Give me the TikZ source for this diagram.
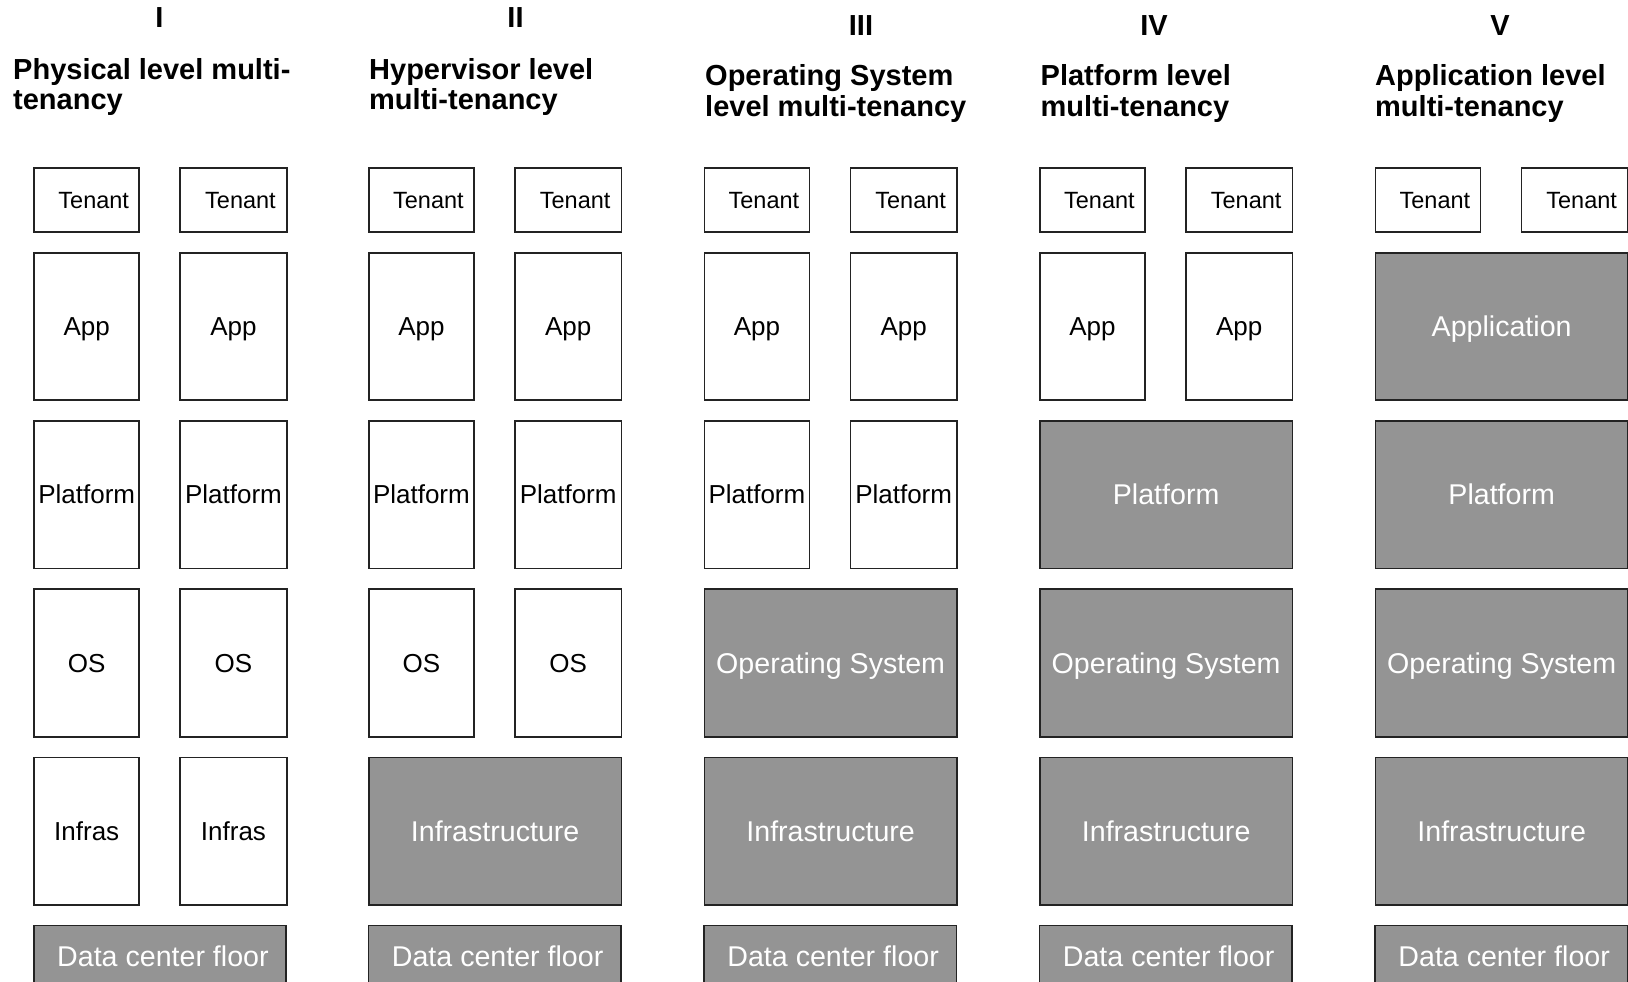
\documentclass[tikz,border=0pt]{standalone}
\usepackage{fontspec}
\setmainfont{Liberation Sans}
\definecolor{boxgray}{RGB}{148,148,148}
\definecolor{edge}{RGB}{35,35,35}
\begin{document}
\begin{tikzpicture}[x=1pt,y=-1pt,
  base/.style={draw=edge, line width=1.8pt, inner sep=0pt, anchor=north west},
  wbox/.style={base, fill=white, minimum width=105pt, minimum height=147.5pt,
    font=\fontsize{26}{30}\selectfont, text height=18.6pt, text depth=0pt},
  wboxb/.style={wbox, minimum width=106.5pt},
  tbox/.style={base, fill=white, minimum width=105pt, minimum height=64pt,
    font=\fontsize{23.5}{28}\selectfont, text height=16.8pt, text depth=0pt},
  tboxb/.style={tbox, minimum width=106.5pt},
  gbox/.style={base, fill=boxgray, text=white, minimum width=252.5pt, minimum height=147.5pt,
    font=\fontsize{28.6}{33}\selectfont, text height=20.5pt, text depth=0pt},
  floorbox/.style={gbox, minimum height=61pt},
  title/.style={anchor=north west, inner sep=0pt, align=left,
    font=\fontsize{29}{30.5}\selectfont\bfseries},
  num/.style={anchor=base, inner sep=0pt, font=\fontsize{29}{30}\selectfont\bfseries}
]
\useasboundingbox (0,0) rectangle (1628,982);
\fill[white] (0,0) rectangle (1628,982);
\clip (0,0) rectangle (1628,982);

% numerals
\node[num] (n1) at (159.5,28) {I};
\node[num] (n2) at (515.5,28) {II};
\node[num] (n3) at (861,35.5) {III};
\node[num] (n4) at (1154,36) {IV};
\node[num] (n5) at (1500,36) {V};

% titles
\node[title] (h1) at (13,58) {Physical level multi-\\tenancy};
\node[title] (h2) at (369,58) {Hypervisor level\\multi-tenancy};
\node[title] (h3) at (705,64.5) {Operating System\\level multi-tenancy};
\node[title] (h4) at (1040.5,64.5) {Platform level\\multi-tenancy};
\node[title] (h5) at (1375,64.5) {Application level\\multi-tenancy};

\foreach \c/\L in {1/33.3,2/368,3/703.5,4/1039,5/1374.5}{
  % tenants
  \node[tbox]  (ten\c a) at (\L,167) {\hspace*{14pt}Tenant};
  \node[tboxb] (ten\c b) at (\L+146,167) {\hspace*{14pt}Tenant};
  % application layer
  \ifnum\c<5
    \node[wbox]  (app\c a) at (\L,251.7) {App};
    \node[wboxb] (app\c b) at (\L+146,251.7) {App};
  \else
    \node[gbox] (app\c) at (\L,251.7) {Application};
  \fi
  % platform layer
  \ifnum\c<4
    \node[wbox]  (pla\c a) at (\L,420) {Platform};
    \node[wboxb] (pla\c b) at (\L+146,420) {Platform};
  \else
    \node[gbox] (pla\c) at (\L,420) {Platform};
  \fi
  % OS layer
  \ifnum\c<3
    \node[wbox]  (os\c a) at (\L,588.3) {OS};
    \node[wboxb] (os\c b) at (\L+146,588.3) {OS};
  \else
    \node[gbox] (os\c) at (\L,588.3) {Operating System};
  \fi
  % infrastructure layer
  \ifnum\c<2
    \node[wbox]  (inf\c a) at (\L,756.6) {Infras};
    \node[wboxb] (inf\c b) at (\L+146,756.6) {Infras};
  \else
    \node[gbox] (inf\c) at (\L,756.6) {Infrastructure};
  \fi
  % data center floor
  \node[floorbox] (dcf\c) at (\L-0.5,924.5) {\hspace*{6pt}Data center floor};
}
\end{tikzpicture}
\end{document}
